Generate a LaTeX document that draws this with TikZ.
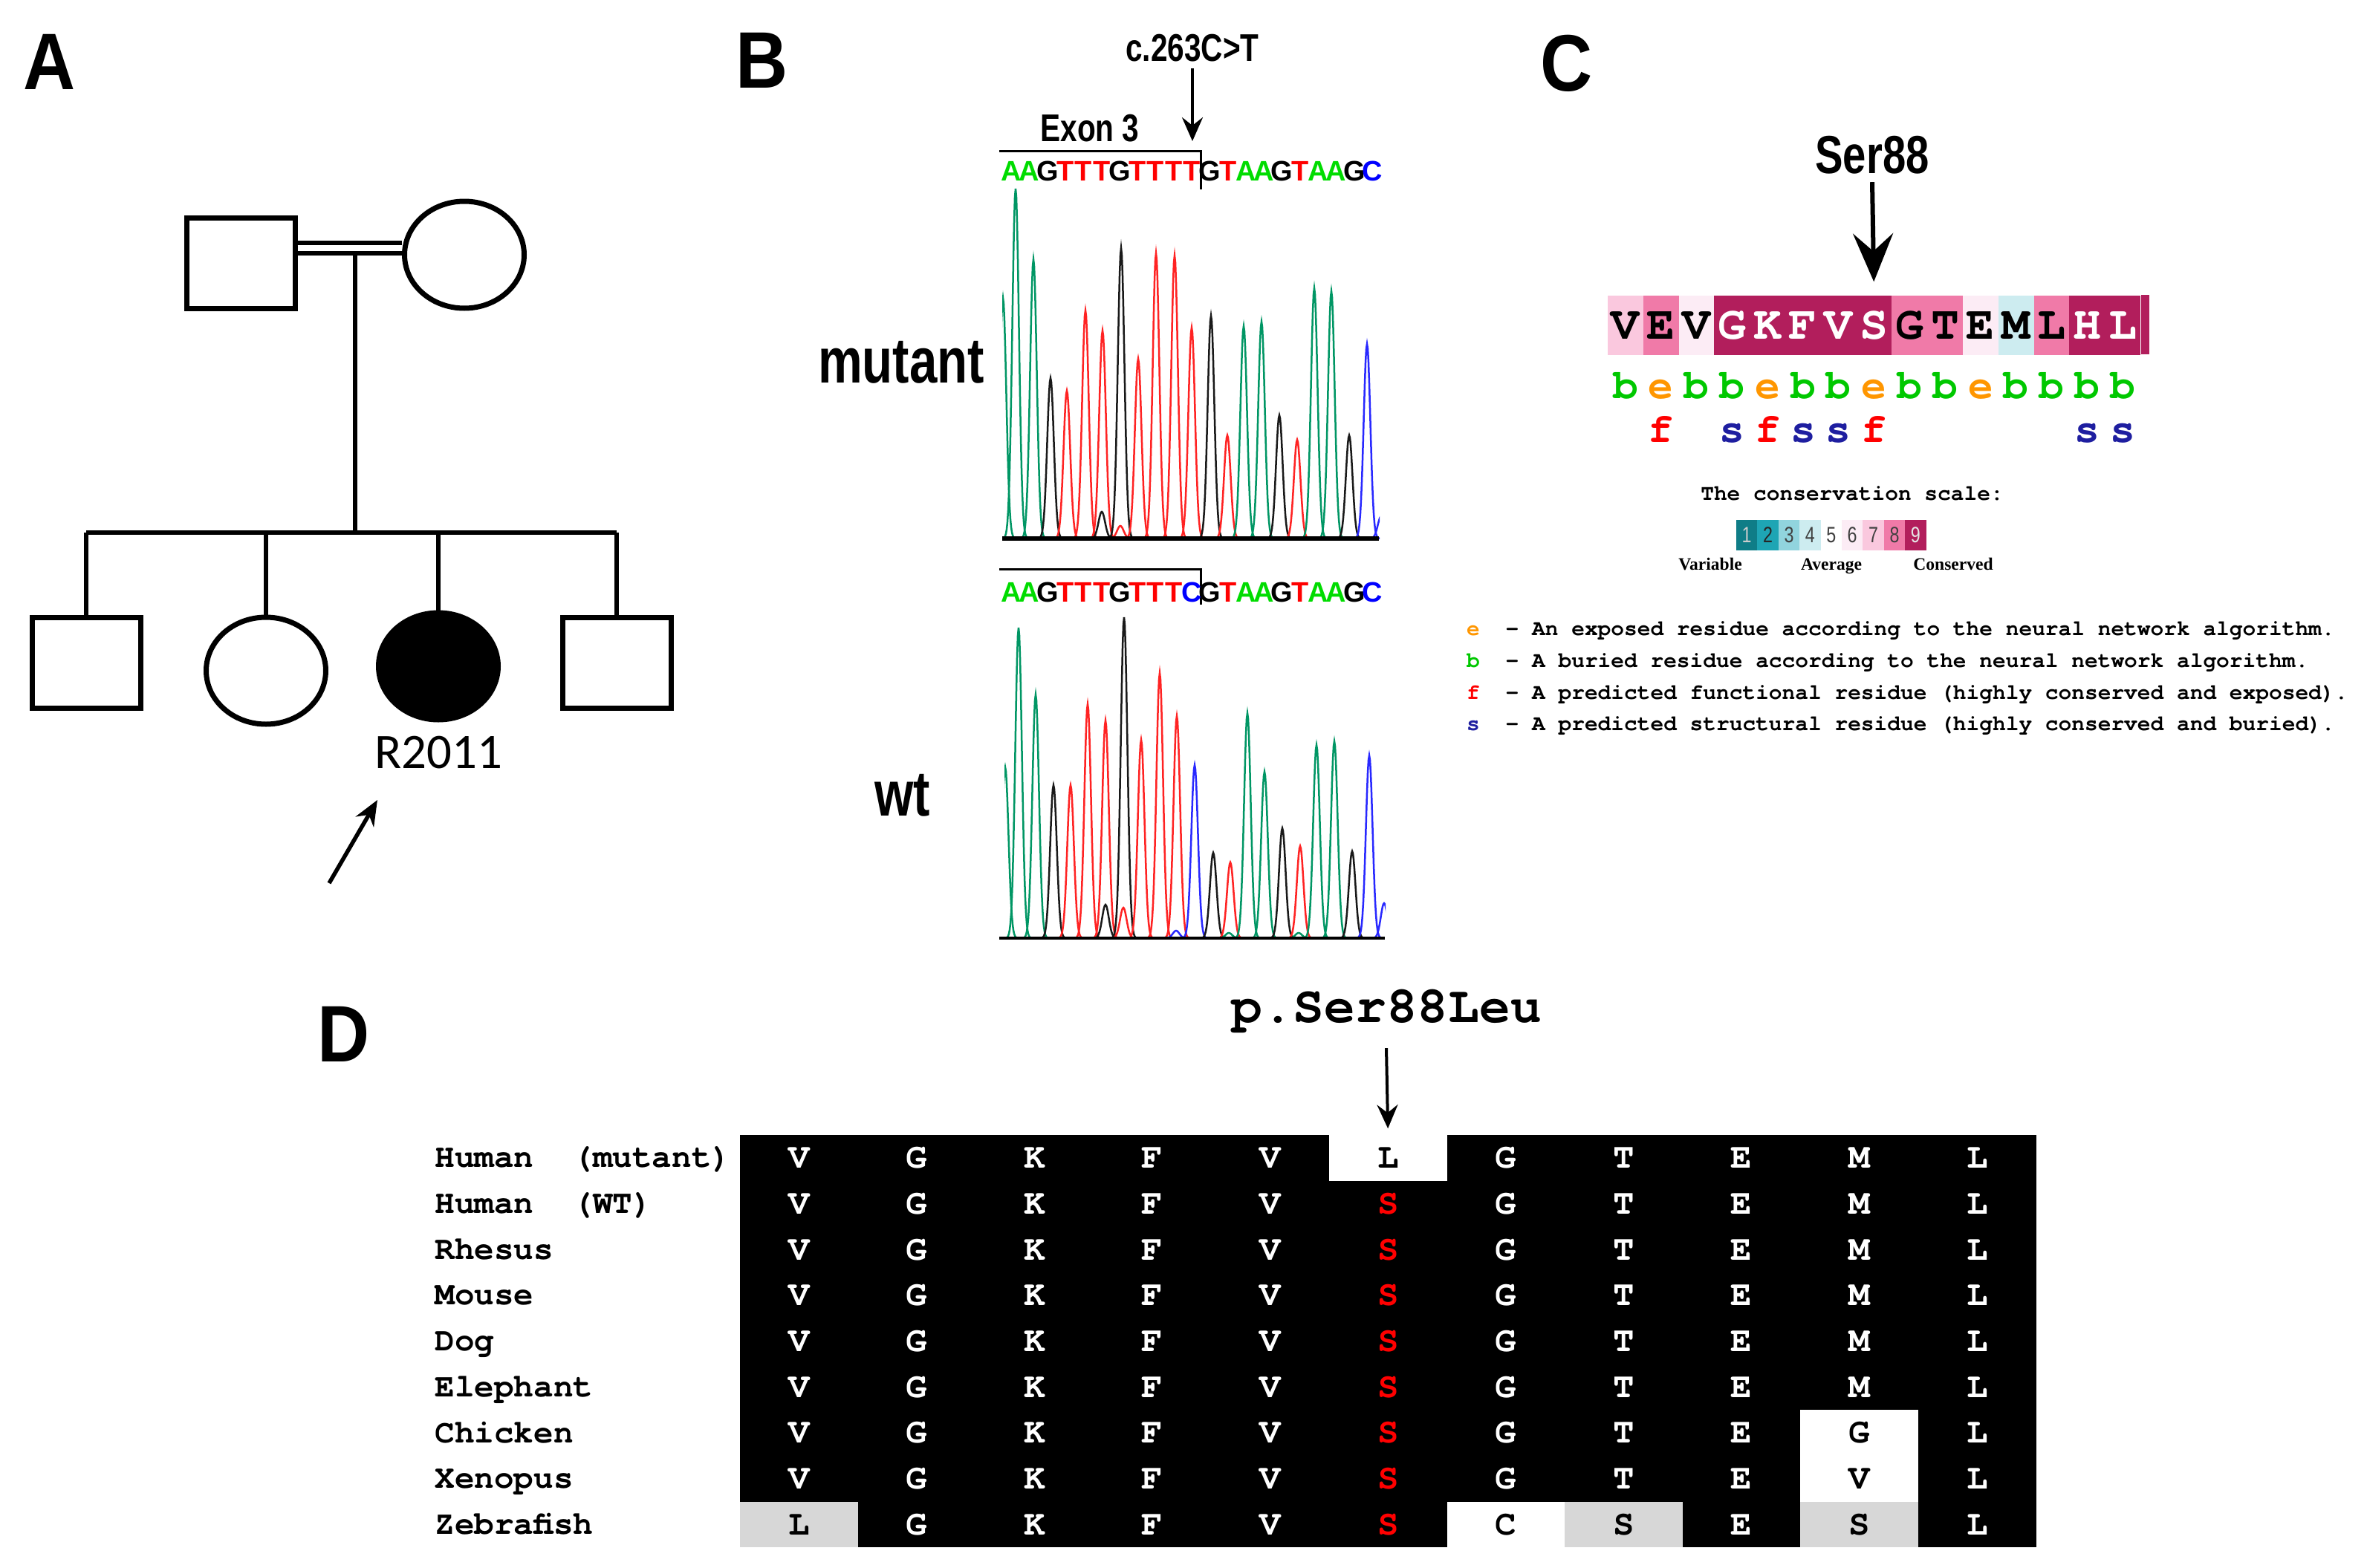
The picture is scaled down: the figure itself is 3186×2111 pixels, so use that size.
\documentclass[tikz,border=0pt]{standalone}
\usepackage{fontspec}
\setmainfont{Liberation Sans}
\newfontfamily\narrowsf[FakeStretch=0.78]{Liberation Sans}
\newfontfamily\panelsf[FakeStretch=0.9]{Liberation Sans}
\newfontfamily\courier[Extension=.otf,UprightFont=*-regular,BoldFont=*-bold]{texgyrecursor}
\newfontfamily\timesf{Liberation Serif}
\newfontfamily\calibri{Carlito}
\usetikzlibrary{arrows.meta,shapes.geometric,positioning}

\definecolor{ntA}{RGB}{0,220,0}
\definecolor{ntG}{RGB}{0,0,0}
\definecolor{ntT}{RGB}{255,0,0}
\definecolor{ntC}{RGB}{0,0,255}
\definecolor{trA}{RGB}{0,150,100}
\definecolor{trG}{RGB}{25,25,25}
\definecolor{trT}{RGB}{255,35,35}
\definecolor{trC}{RGB}{40,40,255}
\definecolor{cs1}{RGB}{15,125,135}
\definecolor{cs2}{RGB}{30,165,180}
\definecolor{cs3}{RGB}{145,212,222}
\definecolor{cs4}{RGB}{205,236,240}
\definecolor{cs5}{RGB}{255,255,255}
\definecolor{cs6}{RGB}{252,236,245}
\definecolor{cs7}{RGB}{250,200,222}
\definecolor{cs8}{RGB}{240,122,168}
\definecolor{cs9}{RGB}{178,30,92}
\definecolor{letb}{RGB}{0,200,0}
\definecolor{lete}{RGB}{255,150,0}
\definecolor{letf}{RGB}{255,0,0}
\definecolor{lets}{RGB}{30,30,160}
\definecolor{varg}{RGB}{215,215,215}

\begin{document}
\begin{tikzpicture}[x=0.1mm,y=-0.1mm,
  every node/.style={inner sep=0},
  panel/.style={font=\fontsize{30.7}{32}\panelsf\bfseries},
  male/.style={draw,line width=0.7mm,minimum width=14.6mm,minimum height=12.2mm},
  female/.style={draw,ellipse,line width=0.7mm,minimum width=16.1mm,minimum height=14.4mm},
  pedline/.style={line width=0.65mm},
  nucl/.style={font=\fontsize{10.8}{12}\selectfont\bfseries},
  chromline/.style={line width=0.25mm},
  tracelab/.style={font=\fontsize{24.5}{26}\narrowsf\bfseries},
  seqnote/.style={font=\fontsize{14.8}{16}\narrowsf\bfseries},
  pointer/.style={line width=0.4mm,-{Stealth[length=3.2mm,width=2.8mm,inset=1.1mm]}},
  residue/.style={minimum width=4.78mm,minimum height=8mm,font=\fontsize{18}{19}\courier\bfseries},
  predict/.style={anchor=base,font=\fontsize{16}{17}\courier\bfseries},
  scalecell/.style={minimum width=2.84mm,minimum height=4.1mm,font=\fontsize{8.5}{9}\narrowsf},
  legendtxt/.style={font=\fontsize{8.4}{9}\courier\bfseries},
  scalelab/.style={anchor=base,font=\fontsize{6.7}{7}\timesf\bfseries},
  aln/.style={minimum width=15.86mm,minimum height=6.17mm,font=\fontsize{13.5}{14}\courier\bfseries},
  aak/.style={aln,text=white},
  aar/.style={aln,text=red},
  aaw/.style={aln,fill=white,text=black},
  aag/.style={aln,fill=varg,text=black},
  species/.style={anchor=base west,font=\fontsize{12.6}{13}\courier\bfseries}]

\fill[white] (0,0) rectangle (3186,2111);
\useasboundingbox (0,0) rectangle (3186,2111);

% A: pedigree
\node[panel] (pa) at (67,83) {A};
\node[male] (father) at (324,354) {};
\node[female] (mother) at (625,343) {};
\coordinate (mate) at (478,334);
\coordinate (sib) at (478,717);
\node[male] (son1) at (116,892) {};
\node[female] (dau1) at (358,903) {};
\node[female,fill=black] (proband) at (590,897) {};
\node[male] (son2) at (830,892) {};
\draw[line width=0.6mm,double,double distance=0.8mm] (father.east |- mate) -- (mother.west |- mate);
\draw[pedline] ([yshift=-0.7mm]mate) -- (sib);
\draw[pedline] (son1 |- sib) -- (son2 |- sib);
\foreach \kid in {son1,dau1,proband,son2}
  \draw[pedline] (\kid |- sib) -- (\kid.north);
\node[below=1.8mm of proband,font=\fontsize{19}{20}\calibri] (pid) {R2011};
\coordinate (ptail) at (443,1189);
\coordinate (phead) at (508,1077);
\draw[line width=0.55mm,-{Stealth[length=3.4mm,width=2.8mm]}] (ptail) -- (phead);

% B: sequencing traces
\node[panel] (pb) at (1026,81) {B};
\node[seqnote] (cvar) at (1605,65) {c.263C>T};
\coordinate (ctip) at (1605,190);
\draw[pointer] ([yshift=-0.8mm]cvar.south) -- (ctip);
\node[seqnote] (exon) at (1467,173) {Exon 3};
\coordinate (mex) at (1345,203);
\coordinate (mcut) at (1616,203);
\draw[line width=0.3mm] (mex) -- (mcut) -- ++(0,52);
\foreach \nb [count=\ii] in {A,A,G,T,T,T,G,T,T,T,T,G,T,A,A,G,T,A,A,G,C}
  \node[nucl,text=nt\nb] (ms\ii) at ({1349+24.3*(\ii-0.5)},230) {\nb};
\begin{scope}
  \clip (1349,240) rectangle (1857,726);
  \foreach \kk/\cx/\hh in {A/1350/324,A/1367/471,A/1391/376,G/1414/216,T/1436/199,
      T/1461/307,T/1484/280,G/1483/36,G/1509/391,T/1508/17,T/1532/242,T/1556/384,
      T/1581/381,T/1604/284,G/1630/300,T/1652/139,A/1674/286,A/1698/292,G/1722/166,
      T/1746/133,A/1769/337,A/1792/333,G/1816/139,C/1840/262,C/1859/30}
    \draw[chromline,draw=tr\kk] plot[domain=\cx-18:\cx+18,samples=37]
      (\x,{725-\hh*exp(-((\x-\cx)/6.3)^2)});
\end{scope}
\draw[line width=0.55mm] (1349,725) -- (1856,725);
\node[tracelab] (mutant) at (1213,488) {mutant};

\coordinate (wex) at (1345,766);
\coordinate (wcut) at (1616,766);
\draw[line width=0.3mm] (wex) -- (wcut) -- ++(0,48);
\foreach \nb [count=\ii] in {A,A,G,T,T,T,G,T,T,T,C,G,T,A,A,G,T,A,A,G,C}
  \node[nucl,text=nt\nb] (ws\ii) at ({1349+24.3*(\ii-0.5)},797) {\nb};
\begin{scope}
  \clip (1352,810) rectangle (1865,1264);
  \foreach \kk/\cx/\hh in {A/1353/230,A/1371/418,A/1394/328,G/1418/206,T/1441/206,
      T/1464/315,T/1488/293,G/1488/45,G/1513/432,T/1512/41,T/1536/267,T/1561/357,
      T/1584/299,C/1583/10,C/1608/233,G/1633/115,T/1656/102,A/1654/7,A/1679/303,
      A/1702/224,G/1726/148,T/1750/124,A/1748/7,A/1772/260,A/1796/265,G/1820/117,
      C/1843/246,C/1863/47}
    \draw[chromline,draw=tr\kk] plot[domain=\cx-18:\cx+18,samples=37]
      (\x,{1263-\hh*exp(-((\x-\cx)/6.3)^2)});
\end{scope}
\draw[line width=0.4mm] (1345,1263) -- (1864,1263);
\node[tracelab] (wt) at (1215,1071) {wt};

% C: conservation
\node[panel] (pc) at (2109,85) {C};
\node[font=\fontsize{20.5}{22}\narrowsf\bfseries] (ser) at (2520,209) {Ser88};
\foreach \res/\gr/\tc [count=\ii] in {V/7/black,E/8/black,V/6/black,G/9/white,K/9/white,
    F/9/white,V/9/white,S/9/white,G/8/black,T/8/black,E/6/black,M/4/black,L/8/black,
    H/9/white,L/9/white}
  \node[residue,fill=cs\gr,text=\tc] (res\ii) at ({2164+47.8*(\ii-0.5)},438) {\res};
\fill[cs9] (res15.north east) rectangle ++(11,80);
\draw[line width=0.6mm,-{Stealth[length=6.5mm,width=5.4mm,inset=2.4mm]},shorten >=1.8mm]
  ([yshift=-1mm]ser.south) -- (res8.north);
\foreach \lt [count=\ii] in {b,e,b,b,e,b,b,e,b,b,e,b,b,b,b}
  \node[predict,text=let\lt] (pr\ii) at ({2164+47.8*(\ii-0.5)},536) {\lt};
\foreach \ii/\lt in {2/f,4/s,5/f,6/s,7/s,8/f,14/s,15/s}
  \node[predict,text=let\lt] (fs\ii) at ({2164+47.8*(\ii-0.5)},595) {\lt};
\node[legendtxt] (cstitle) at (2493,664) {The conservation scale:};
\foreach \gr/\tc in {1/white!80!black,2/black!85,3/black!75,4/black!75,5/black!75,
    6/black!75,7/black!75,8/black!75,9/white!90!black}
  \node[scalecell,fill=cs\gr,text=\tc] (sc\gr) at ({2337+28.4*(\gr-0.5)},720) {\gr};
\node[scalelab] (svar) at (2302,767) {Variable};
\node[scalelab] (savg) at (2465,767) {Average};
\node[scalelab] (scon) at (2629,767) {Conserved};
\foreach \lt/\yy/\txt in {e/847/An exposed residue according to the neural network algorithm.,
    b/890/A buried residue according to the neural network algorithm.,
    f/933/A predicted functional residue (highly conserved and exposed).,
    s/975/A predicted structural residue (highly conserved and buried).}{
  \node[legendtxt,anchor=base,text=let\lt] (lg\lt) at (1983,{\yy+8}) {\lt};
  \node[legendtxt,anchor=base west] (lt\lt) at (2026,{\yy+8}) {- \txt};
}

% D: alignment
\node[panel] (pd) at (463,1392) {D};
\node[font=\fontsize{19.8}{21}\courier\bfseries] (pmut) at (1866,1361) {p.Ser88Leu};
\fill[black] (996,1528) rectangle (2741,2083);
\foreach \sp [count=\rw from 0] in {Human\ \ (mutant),Human\ \ (WT),Rhesus,Mouse,Dog,
    Elephant,Chicken,Xenopus,Zebrafish}
  \node[species] (sp\rw) at (585,{1528+61.7*(\rw+0.5)+13}) {\sp};
\foreach \row [count=\rw from 0] in {
    {V/k,G/k,K/k,F/k,V/k,L/w,G/k,T/k,E/k,M/k,L/k},
    {V/k,G/k,K/k,F/k,V/k,S/r,G/k,T/k,E/k,M/k,L/k},
    {V/k,G/k,K/k,F/k,V/k,S/r,G/k,T/k,E/k,M/k,L/k},
    {V/k,G/k,K/k,F/k,V/k,S/r,G/k,T/k,E/k,M/k,L/k},
    {V/k,G/k,K/k,F/k,V/k,S/r,G/k,T/k,E/k,M/k,L/k},
    {V/k,G/k,K/k,F/k,V/k,S/r,G/k,T/k,E/k,M/k,L/k},
    {V/k,G/k,K/k,F/k,V/k,S/r,G/k,T/k,E/k,G/w,L/k},
    {V/k,G/k,K/k,F/k,V/k,S/r,G/k,T/k,E/k,V/w,L/k},
    {L/g,G/k,K/k,F/k,V/k,S/r,C/w,S/g,E/k,S/g,L/k}}
  \foreach \res/\sty [count=\cl from 0] in \row
    \node[aa\sty] (d\rw-\cl) at ({996+158.6*(\cl+0.5)},{1528+61.7*(\rw+0.5)}) {\res};
\draw[pointer,shorten >=0.8mm] ([yshift=-2mm]pmut.south) -- (d0-5.north);
\end{tikzpicture}
\end{document}
